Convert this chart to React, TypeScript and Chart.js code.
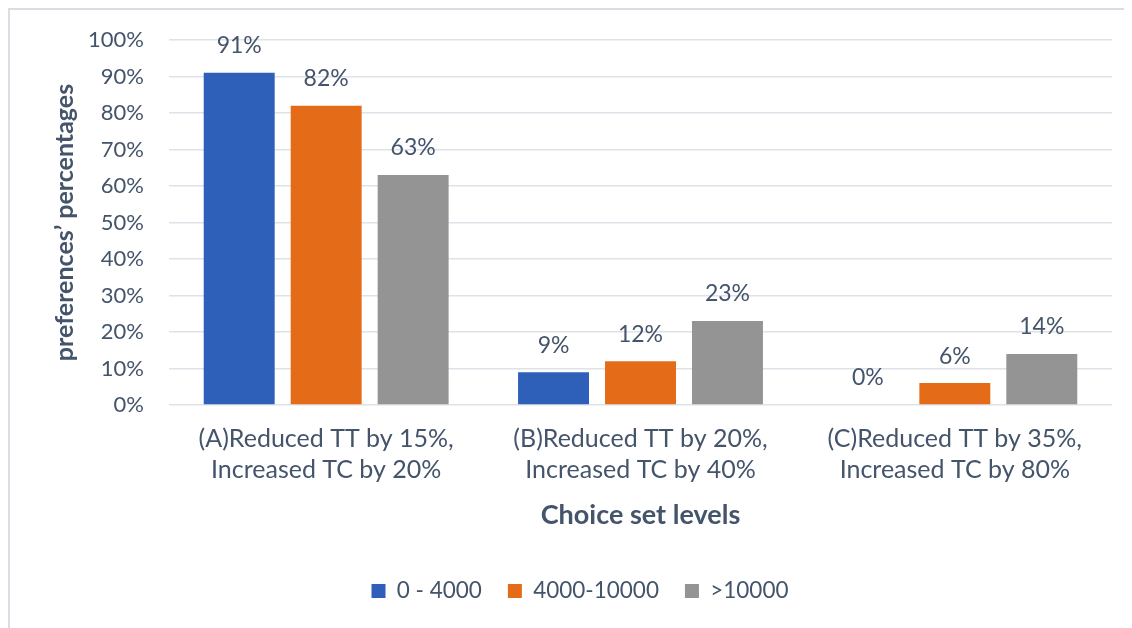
import React, { useEffect, useRef } from "react";
import { Chart, registerables } from "chart.js";

Chart.register(...registerables);

const categories: string[][] = [
  ["(A)Reduced TT by 15%,", "Increased TC by 20%"],
  ["(B)Reduced TT by 20%,", "Increased TC by 40%"],
  ["(C)Reduced TT by 35%,", "Increased TC by 80%"],
];
const seriesNames = ["0 - 4000", "4000-10000", ">10000"];
const seriesColors = ["#2E60B9", "#E46C18", "#949494"];
const low = [91, 9, 0];
const mid = [82, 12, 6];
const high = [63, 23, 14];
const yTicks = [0, 10, 20, 30, 40, 50, 60, 70, 80, 90, 100];

const TEXT = "#44546A";
const FONT = "Lato, 'Noto Sans', sans-serif";

const labelPlugin = {
  id: "barValueLabels",
  afterDatasetsDraw(chart: any) {
    const ctx = chart.ctx;
    ctx.save();
    ctx.font = `23px ${FONT}`;
    ctx.fillStyle = TEXT;
    ctx.textAlign = "center";
    ctx.textBaseline = "middle";
    chart.data.datasets.forEach((ds: any, i: number) => {
      const meta = chart.getDatasetMeta(i);
      meta.data.forEach((bar: any, j: number) => {
        ctx.fillText(`${ds.data[j]}%`, bar.x, bar.y - 27);
      });
    });
    ctx.restore();
  },
};

export default function App() {
  const ref = useRef<HTMLCanvasElement | null>(null);
  useEffect(() => {
    if (!ref.current) return;
    const chart = new Chart(ref.current, {
      type: "bar",
      data: {
        labels: categories,
        datasets: [low, mid, high].map((d, i) => ({
          label: seriesNames[i],
          data: d,
          backgroundColor: seriesColors[i],
          borderWidth: 0,
          categoryPercentage: 0.83,
          barPercentage: 0.816,
        })),
      },
      options: {
        animation: false,
        responsive: false,
        devicePixelRatio: 1,
        layout: { padding: { left: 38, right: 20, top: 30, bottom: 15.75 } },
        plugins: {
          tooltip: { enabled: false },
          legend: {
            position: "bottom",
            labels: {
              boxWidth: 14,
              boxHeight: 14,
              padding: 26,
              color: TEXT,
              font: { family: FONT, size: 22.5 },
            },
          },
        },
        scales: {
          x: {
            grid: { display: false, drawTicks: false },
            border: { display: false },
            ticks: {
              color: TEXT,
              font: { family: FONT, size: 25, lineHeight: 1.24 },
              padding: 18.5,
              maxRotation: 0,
            },
            title: {
              display: true,
              text: "Choice set levels",
              color: TEXT,
              font: { family: FONT, size: 27, weight: "bold" },
              padding: { top: 0, bottom: 22.5 },
            },
            afterFit(scale: any) {
              scale.height = 148.75;
            },
          },
          y: {
            min: 0,
            max: 100,
            afterBuildTicks(scale: any) {
              scale.ticks = yTicks.map((v) => ({ value: v }));
            },
            grid: {
              color: "#DFE2E8",
              lineWidth: 1.5,
              drawTicks: true,
              tickLength: 25,
              tickColor: "rgba(0,0,0,0)",
            },
            border: { display: false },
            ticks: {
              color: TEXT,
              font: { family: FONT, size: 22 },
              padding: 0,
              callback: (v: any) => `${v}%`,
            },
            title: {
              display: true,
              text: "preferences’ percentages",
              color: TEXT,
              font: { family: FONT, size: 25, weight: "bold" },
              padding: { top: 2, bottom: 0 },
            },
            afterFit(scale: any) {
              scale.width = 121;
            },
          },
        },
      },
      plugins: [labelPlugin],
    } as any);
    return () => chart.destroy();
  }, []);

  return (
    <div
      style={{
        width: 1124,
        height: 620,
        borderLeft: "2px solid #D9DDE4",
        borderTop: "2px solid #D9DDE4",
        boxSizing: "border-box",
        overflow: "hidden",
      }}
    >
      <canvas ref={ref} width={1122} height={618} style={{ display: "block" }} />
    </div>
  );
}
